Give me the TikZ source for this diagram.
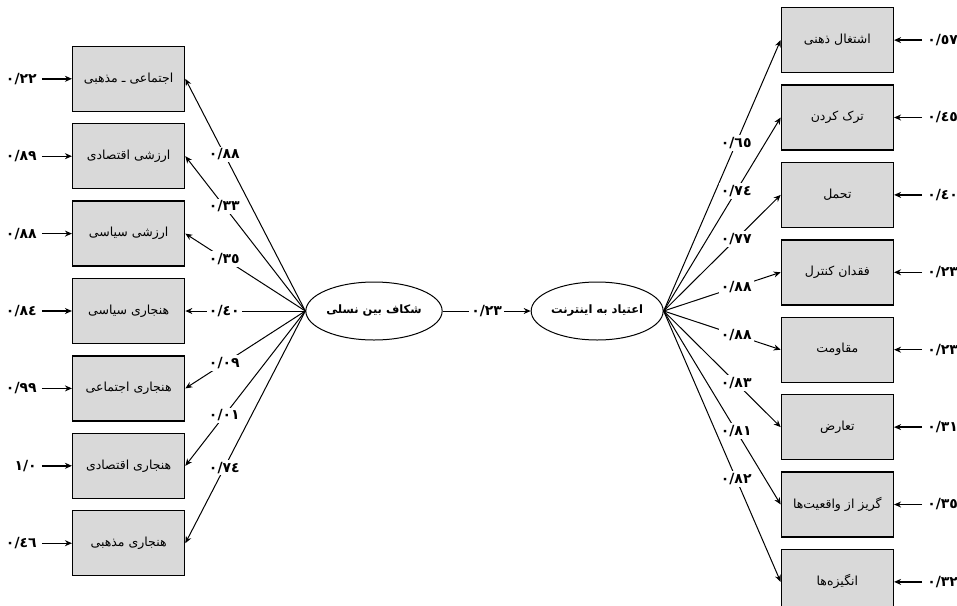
\documentclass[tikz,border=0pt]{standalone}
\usepackage{fontspec}
\usetikzlibrary{arrows.meta, positioning, shapes.geometric}
\TeXXeTstate=1
\newfontfamily\farsi[Script=Arabic]{DejaVu Sans}
\newcommand{\fatext}[1]{{\farsi\beginR #1\endR}}
\newcommand{\coef}[1]{{\farsi\bfseries #1}}
\definecolor{boxfill}{RGB}{217,217,217}

\begin{document}
\begin{tikzpicture}[
                        x=1pt, y=1pt,
                        >={Stealth[length=7pt,width=6pt]},
                        box/.style={
                                rectangle, draw, line width=1.4pt,
                                fill=boxfill, align=center,
                                minimum width=112pt, minimum height=65pt,
                                font=\fontsize{12.5}{14}\selectfont
                            },
                        latent/.style={
                                ellipse, draw, line width=1pt, inner sep=0.5pt,
                                minimum width=132pt, minimum height=58pt,
                                font=\fontsize{11.5}{13}\selectfont\bfseries
                            },
                        errlabel/.style={inner xsep=5pt, inner ysep=2pt, font=\fontsize{14}{16}\selectfont},
                        coeflabel/.style={fill=white, inner sep=2pt, font=\fontsize{14}{16}\selectfont},
                        arrow/.style={->, line width=1pt},
                        errarrow/.style={->, line width=1.4pt}
                    ]

                    \useasboundingbox (0,0) rectangle (957,-605);

                    % ===== Latent variables =====
                    \node[latent] (gap) at (374,-311) {\fatext{شکاف بین نسلی}};
                    \node[latent, right=88pt of gap] (addict) {\fatext{اعتیاد به اینترنت}};

                    % ===== Left indicators =====
                    \node[box, left=120pt of gap] (ind4) {\fatext{هنجاری سیاسی}};
                    \node[box, above=11pt of ind4] (ind3) {\fatext{ارزشی سیاسی}};
                    \node[box, above=11pt of ind3] (ind2) {\fatext{ارزشی اقتصادی}};
                    \node[box, above=11pt of ind2] (ind1) {\fatext{اجتماعی ـ مذهبی}};
                    \node[box, below=11pt of ind4] (ind5) {\fatext{هنجاری اجتماعی}};
                    \node[box, below=11pt of ind5] (ind6) {\fatext{هنجاری اقتصادی}};
                    \node[box, below=11pt of ind6] (ind7) {\fatext{هنجاری مذهبی}};

                    % ===== Right indicators =====
                    \node[box, above right=5.5pt and 117pt of addict.east] (sym4) {\fatext{فقدان کنترل}};
                    \node[box, above=11pt of sym4] (sym3) {\fatext{تحمل}};
                    \node[box, above=11pt of sym3] (sym2) {\fatext{ترک کردن}};
                    \node[box, above=11pt of sym2] (sym1) {\fatext{اشتغال ذهنی}};
                    \node[box, below=11pt of sym4] (sym5) {\fatext{مقاومت}};
                    \node[box, below=11pt of sym5] (sym6) {\fatext{تعارض}};
                    \node[box, below=11pt of sym6] (sym7) {\fatext{گریز از واقعیت‌ها}};
                    \node[box, below=11pt of sym7] (sym8) {\fatext{انگیزه‌ها}};

                    % ===== Error terms =====
                    \node[errlabel, left=30pt of ind1] (e1) {\coef{٠/٢٢}};
                    \node[errlabel, left=30pt of ind2] (e2) {\coef{٠/٨٩}};
                    \node[errlabel, left=30pt of ind3] (e3) {\coef{٠/٨٨}};
                    \node[errlabel, left=30pt of ind4] (e4) {\coef{٠/٨٤}};
                    \node[errlabel, left=30pt of ind5] (e5) {\coef{٠/٩٩}};
                    \node[errlabel, left=30pt of ind6] (e6) {\coef{١/٠}};
                    \node[errlabel, left=30pt of ind7] (e7) {\coef{٠/٤٦}};

                    \node[errlabel, right=28pt of sym1] (d1) {\coef{٠/٥٧}};
                    \node[errlabel, right=28pt of sym2] (d2) {\coef{٠/٤٥}};
                    \node[errlabel, right=28pt of sym3] (d3) {\coef{٠/٤٠}};
                    \node[errlabel, right=28pt of sym4] (d4) {\coef{٠/٢٣}};
                    \node[errlabel, right=28pt of sym5] (d5) {\coef{٠/٢٣}};
                    \node[errlabel, right=28pt of sym6] (d6) {\coef{٠/٣١}};
                    \node[errlabel, right=28pt of sym7] (d7) {\coef{٠/٣٥}};
                    \node[errlabel, right=28pt of sym8] (d8) {\coef{٠/٣٢}};

                    % ===== Arrows =====
                    % Errors to indicators
                    \draw[errarrow] (e1) -- (ind1);
                    \draw[errarrow] (e2) -- (ind2);
                    \draw[errarrow] (e3) -- (ind3);
                    \draw[errarrow] (e4) -- (ind4);
                    \draw[errarrow] (e5) -- (ind5);
                    \draw[errarrow] (e6) -- (ind6);
                    \draw[errarrow] (e7) -- (ind7);

                    \draw[errarrow] (d1) -- (sym1);
                    \draw[errarrow] (d2) -- (sym2);
                    \draw[errarrow] (d3) -- (sym3);
                    \draw[errarrow] (d4) -- (sym4);
                    \draw[errarrow] (d5) -- (sym5);
                    \draw[errarrow] (d6) -- (sym6);
                    \draw[errarrow] (d7) -- (sym7);
                    \draw[errarrow] (d8) -- (sym8);

                    % Loadings of the generation gap
                    \draw[arrow] (gap.west) -- node[coeflabel, pos=0.675] {\coef{٠/٨٨}} (ind1.east);
                    \draw[arrow] (gap.west) -- node[coeflabel, pos=0.675] {\coef{٠/٣٣}} (ind2.east);
                    \draw[arrow] (gap.west) -- node[coeflabel, pos=0.675] {\coef{٠/٣٥}} (ind3.east);
                    \draw[arrow] (gap.west) -- node[coeflabel, pos=0.675] {\coef{٠/٤٠}} (ind4.east);
                    \draw[arrow] (gap.west) -- node[coeflabel, pos=0.675] {\coef{٠/٠٩}} (ind5.east);
                    \draw[arrow] (gap.west) -- node[coeflabel, pos=0.675] {\coef{٠/٠١}} (ind6.east);
                    \draw[arrow] (gap.west) -- node[coeflabel, pos=0.675] {\coef{٠/٧٤}} (ind7.east);

                    % Path between the latents
                    \draw[arrow] (gap) -- node[coeflabel] {\coef{٠/٢٣}} (addict);

                    % Loadings of internet addiction
                    \draw[arrow] (addict.east) -- node[coeflabel, pos=0.62] {\coef{٠/٦٥}} (sym1.west);
                    \draw[arrow] (addict.east) -- node[coeflabel, pos=0.62] {\coef{٠/٧٤}} (sym2.west);
                    \draw[arrow] (addict.east) -- node[coeflabel, pos=0.62] {\coef{٠/٧٧}} (sym3.west);
                    \draw[arrow] (addict.east) -- node[coeflabel, pos=0.62] {\coef{٠/٨٨}} (sym4.west);
                    \draw[arrow] (addict.east) -- node[coeflabel, pos=0.62] {\coef{٠/٨٨}} (sym5.west);
                    \draw[arrow] (addict.east) -- node[coeflabel, pos=0.62] {\coef{٠/٨٣}} (sym6.west);
                    \draw[arrow] (addict.east) -- node[coeflabel, pos=0.62] {\coef{٠/٨١}} (sym7.west);
                    \draw[arrow] (addict.east) -- node[coeflabel, pos=0.62] {\coef{٠/٨٢}} (sym8.west);

                \end{tikzpicture}
\end{document}
